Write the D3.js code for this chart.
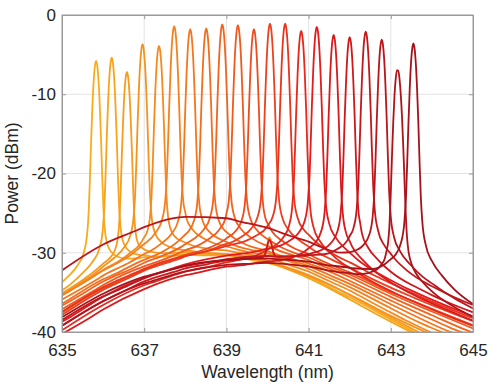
<!DOCTYPE html>
<html>
<head>
<meta charset="utf-8">
<script src="https://cdn.jsdelivr.net/npm/d3@7"></script>
<style>
  body { margin: 0; background: #fff; }
  text { font-family: Arial, "Liberation Sans", sans-serif; }
</style>
</head>
<body>
<svg id="chart" width="488" height="382"></svg>
<script>
const bgWavelengths = [635, 636, 637, 638, 639, 640, 641, 642, 643, 644, 645];

// lasing peaks, one per spectrum (yellow -> dark red)
const peakWavelengths = [635.83, 636.21, 636.58, 636.96, 637.36, 637.73, 638.12, 638.51, 638.90, 639.28,
  639.67, 640.06, 640.43, 640.82, 641.20, 641.61, 642.00, 642.39, 642.78, 643.15, 643.55];
const peakPowers = [-5.8, -5.4, -7.2, -3.7, -3.9, -1.4, -1.8, -1.7, -1.2, -1.3,
  -1.8, -1.1, -1.1, -2.0, -1.5, -2.5, -2.8, -2.1, -3.1, -7.9, -3.6];

// background level (dBm) of each spectrum at bgWavelengths
const backgrounds = [
  [-36.3, -33.2, -31.2, -30.4, -30.4, -31.3, -33.1, -35.7, -38.6, -41.5, -44.3],
  [-36.8, -33.6, -31.5, -30.6, -30.5, -31.4, -33.3, -36.0, -38.9, -41.7, -44.6],
  [-36.0, -32.9, -31.0, -30.2, -30.3, -31.1, -32.9, -35.4, -38.3, -41.1, -43.9],
  [-37.0, -33.8, -31.7, -30.7, -30.6, -31.4, -33.1, -35.5, -38.2, -40.8, -43.4],
  [-36.5, -33.4, -31.3, -30.3, -30.2, -30.9, -32.6, -35.0, -37.8, -40.5, -43.1],
  [-37.0, -33.9, -31.7, -30.6, -30.4, -31.0, -32.5, -34.8, -37.5, -40.1, -42.6],
  [-37.2, -34.1, -31.9, -30.7, -30.3, -30.8, -32.2, -34.4, -37.0, -39.5, -41.9],
  [-37.6, -34.4, -32.2, -30.9, -30.4, -30.8, -32.0, -34.1, -36.6, -39.0, -41.3],
  [-37.8, -34.6, -32.4, -31.0, -30.4, -30.7, -31.8, -33.8, -36.3, -38.6, -40.8],
  [-38.1, -34.9, -32.6, -31.1, -30.5, -30.7, -31.7, -33.6, -36.0, -38.2, -40.3],
  [-38.3, -35.1, -32.8, -31.2, -30.5, -30.6, -31.5, -33.4, -35.8, -37.9, -39.9],
  [-38.6, -35.3, -32.9, -31.3, -30.5, -30.5, -31.4, -33.2, -35.6, -37.7, -39.6],
  [-38.0, -34.8, -32.5, -31.0, -30.2, -30.2, -31.0, -32.8, -35.2, -37.4, -39.4],
  [-40.4, -37.1, -34.6, -33.0, -32.2, -32.0, -32.7, -34.4, -36.7, -38.8, -40.7],
  [-39.2, -35.9, -33.5, -31.9, -31.0, -30.9, -31.6, -33.3, -35.6, -37.7, -39.6],
  [-40.8, -37.5, -34.9, -33.2, -32.3, -32.1, -32.7, -34.3, -36.5, -38.5, -40.4],
  [-39.6, -36.3, -33.8, -32.2, -31.3, -31.1, -31.7, -33.2, -35.4, -37.4, -39.2],
  [-38.9, -35.7, -33.4, -31.9, -31.1, -30.9, -31.5, -33.0, -35.1, -37.0, -38.7],
  [-32.3, -29.0, -26.8, -25.5, -25.7, -27.0, -29.0, -32.0, -34.5, -37.0, -39.5],
  [-39.4, -36.2, -33.9, -32.4, -31.6, -31.4, -32.0, -33.5, -35.8, -38.0, -40.0],
  [-38.4, -35.3, -33.1, -31.7, -31.0, -30.9, -31.5, -32.9, -35.2, -38.5, -41.0]
];

// shape of a lasing line: distance from centre (nm) vs. level below its top (dB)
const peakOffsets = [0, 0.03, 0.06, 0.09, 0.12, 0.15, 0.18, 0.22, 0.3, 0.45, 0.7, 1.0, 1.5, 2.2, 3.5, 6];
const peakDrops = [0, -0.7, -2.6, -5.8, -10, -15, -19.5, -23, -26, -28.3, -30.5, -32.6, -35, -37.5, -41, -47];

// small extra modes: [spectrum index, wavelength, power]
const sideModes = [[19, 643.21, -11.5], [4, 640.05, -31.5], [16, 640.05, -32.5]];

const xTicks = [635, 637, 639, 641, 643, 645];
const yTicks = [0, -10, -20, -30, -40];

const margin = { top: 15, right: 15, bottom: 50, left: 62 };
const width = 488 - margin.left - margin.right;
const height = 382 - margin.top - margin.bottom;

const svg = d3.select('#chart');
const g = svg.append('g').attr('transform', `translate(${margin.left},${margin.top})`);

const x = d3.scaleLinear().domain([635, 645]).range([0, width]);
const y = d3.scaleLinear().domain([-40, 0]).range([height, 0]);

const color = d3.scaleLinear()
  .domain([0, 4, 9, 14, 20])
  .range(['#f7ac1c', '#f58b1f', '#f05a1f', '#e31b1c', '#a5121b']);

// grid
g.append('g').selectAll('line').data(xTicks.slice(1, -1)).enter().append('line')
  .attr('x1', d => x(d)).attr('x2', d => x(d)).attr('y1', 0).attr('y2', height)
  .attr('stroke', '#e3e3e3').attr('stroke-width', 1);
g.append('g').selectAll('line').data(yTicks.slice(1, -1)).enter().append('line')
  .attr('y1', d => y(d)).attr('y2', d => y(d)).attr('x1', 0).attr('x2', width)
  .attr('stroke', '#e3e3e3').attr('stroke-width', 1);

svg.append('defs').append('clipPath').attr('id', 'clip')
  .append('rect').attr('width', width).attr('height', height);

// build each spectrum from its background + lasing line(s), summed in linear power
const profile = d3.scaleLinear().domain(peakOffsets).range(peakDrops).clamp(true);
const dbSum = vals => 10 * Math.log10(d3.sum(vals, v => Math.pow(10, v / 10)));

const spectra = backgrounds.map((bg, i) => {
  const bgScale = d3.scaleLinear().domain(bgWavelengths).range(bg);
  const modes = [[peakWavelengths[i], peakPowers[i]]]
    .concat(sideModes.filter(m => m[0] === i).map(m => [m[1], m[2]]));
  const xs = new Set(bgWavelengths);
  modes.forEach(([c]) => peakOffsets.forEach(o => { xs.add(+(c - o).toFixed(4)); xs.add(+(c + o).toFixed(4)); }));
  return Array.from(xs)
    .filter(w => w >= 635 && w <= 645)
    .sort(d3.ascending)
    .map(w => [w, dbSum([bgScale(w)].concat(modes.map(([c, p]) => p + profile(Math.abs(w - c)))))]);
});

const line = d3.line()
  .x(d => x(d[0]))
  .y(d => y(d[1]))
  .curve(d3.curveMonotoneX);

g.append('g').attr('clip-path', 'url(#clip)')
  .selectAll('path').data(spectra).enter().append('path')
  .attr('d', line)
  .attr('fill', 'none')
  .attr('stroke', (d, i) => color(i))
  .attr('stroke-width', 1.8)
  .attr('stroke-linejoin', 'round');

// box + ticks
g.append('rect').attr('width', width).attr('height', height)
  .attr('fill', 'none').attr('stroke', '#9a9a9a').attr('stroke-width', 1);

g.append('g').attr('transform', `translate(0,${height})`)
  .call(d3.axisBottom(x).tickValues(xTicks).tickSizeInner(-4).tickSizeOuter(0).tickPadding(12).tickFormat(d => String(d)));
g.append('g')
  .call(d3.axisLeft(y).tickValues(yTicks).tickSizeInner(-4).tickSizeOuter(0).tickPadding(6).tickFormat(d => String(d)));
g.append('g').call(d3.axisTop(x).tickValues(xTicks).tickSizeInner(-4).tickSizeOuter(0).tickFormat(''));
g.append('g').attr('transform', `translate(${width},0)`)
  .call(d3.axisRight(y).tickValues(yTicks).tickSizeInner(-4).tickSizeOuter(0).tickFormat(''));

g.selectAll('.domain').attr('stroke', '#9a9a9a');
g.selectAll('.tick line').attr('stroke', '#9a9a9a');
g.selectAll('.tick text').attr('fill', '#262626').style('font-size', '17px');

// axis labels
g.append('text')
  .attr('x', width / 2).attr('y', height + 46)
  .attr('text-anchor', 'middle').attr('fill', '#262626').style('font-size', '17.5px')
  .text('Wavelength (nm)');
g.append('text')
  .attr('transform', `translate(${-44},${height / 2}) rotate(-90)`)
  .attr('text-anchor', 'middle').attr('fill', '#262626').style('font-size', '17.5px')
  .text('Power (dBm)');
</script>
</body>
</html>
